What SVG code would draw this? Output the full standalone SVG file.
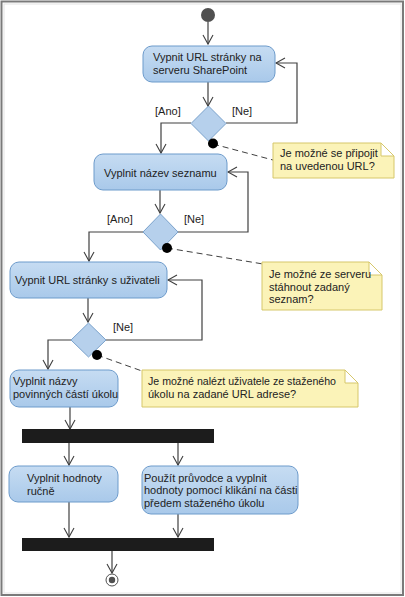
<svg xmlns="http://www.w3.org/2000/svg" width="405" height="597" viewBox="0 0 405 597">
<defs>
<linearGradient id="g" x1="0" y1="0" x2="0" y2="1">
<stop offset="0" stop-color="#c6dcf2"/>
<stop offset="1" stop-color="#a9c9ea"/>
</linearGradient>
<marker id="a" markerUnits="userSpaceOnUse" markerWidth="14" markerHeight="14" refX="10" refY="6" orient="auto">
<path d="M1,1 L10,6 L1,11" fill="none" stroke="#404040" stroke-width="1.1"/>
</marker>
</defs>
<style>
text{font-family:"Liberation Sans",Arial,sans-serif;font-size:11px;fill:#222}
.act{fill:url(#g);stroke:#6d9bcb;stroke-width:1}
.dec{fill:#b6d0ec;stroke:#7aa2cc;stroke-width:1}
.note{fill:#fbf3b8;stroke:#d6c76a;stroke-width:1}
.fold{fill:#ffffff;stroke:#d6c76a;stroke-width:1}
.c{fill:none;stroke:#404040;stroke-width:1.2}
.d{fill:none;stroke:#404040;stroke-width:1;stroke-dasharray:6,4}
.bar{fill:#1c1c1c}
.dot{fill:#000}
</style>
<rect x="0" y="0" width="405" height="597" fill="#fff"/>
<rect x="1.5" y="1.5" width="401.5" height="593.5" fill="none" stroke="#7a7a7a" stroke-width="2"/>
<rect x="4" y="4" width="397" height="589" fill="none" stroke="#e4e4e4" stroke-width="1"/>

<g id="connectors">
<path class="c" d="M208,22 V44" marker-end="url(#a)"/>
<path class="c" d="M208,82 V106" marker-end="url(#a)"/>
<path class="c" d="M226,123 H297 V63 H276" marker-end="url(#a)"/>
<path class="c" d="M191,123 H161 V153" marker-end="url(#a)"/>
<path class="d" d="M213,144 L273,160"/>
<path class="c" d="M160,190 V213" marker-end="url(#a)"/>
<path class="c" d="M178,232 H248 V172 H228" marker-end="url(#a)"/>
<path class="c" d="M143,232 H89 V261" marker-end="url(#a)"/>
<path class="d" d="M167,248 L263,264"/>
<path class="c" d="M88,298 V322" marker-end="url(#a)"/>
<path class="c" d="M106,340 H202 V280 H168" marker-end="url(#a)"/>
<path class="c" d="M71,340 H48 V369" marker-end="url(#a)"/>
<path class="d" d="M97,355 L142,371"/>
<path class="c" d="M70,407 V429" marker-end="url(#a)"/>
<path class="c" d="M69,443 V465" marker-end="url(#a)"/>
<path class="c" d="M178,443 V465" marker-end="url(#a)"/>
<path class="c" d="M69,502 V537" marker-end="url(#a)"/>
<path class="c" d="M178,514 V537" marker-end="url(#a)"/>
<path class="c" d="M112,551 V573" marker-end="url(#a)"/>
<text x="155" y="115">[Ano]</text>
<text x="232" y="115">[Ne]</text>
<text x="107" y="223">[Ano]</text>
<text x="184" y="223">[Ne]</text>
<text x="113" y="331">[Ne]</text>
</g>

<g id="start"><circle cx="208" cy="15" r="7" fill="#505050"/></g>

<g id="n1">
<rect class="act" x="143" y="46" width="132" height="36" rx="9"/>
<text x="153" y="61">Vypnit URL stránky na</text>
<text x="153" y="74">serveru SharePoint</text>
</g>

<g id="d1">
<polygon class="dec" points="208.5,106 226,123.5 208.5,141 191,123.5"/>
<circle class="dot" cx="213" cy="143.5" r="5"/>
</g>

<g id="note1">
<polygon class="note" points="273,143 381,143 394,156 394,178 273,178"/>
<path class="fold" d="M381,143 V156 H394 Z"/>
<text x="280" y="157">Je možné se připojit</text>
<text x="280" y="170">na uvedenou URL?</text>
</g>

<g id="n2">
<rect class="act" x="94" y="154" width="133" height="36" rx="9"/>
<text x="104" y="177">Vyplnit název seznamu</text>
</g>

<g id="d2">
<polygon class="dec" points="160.5,214 178,232 160.5,250 143,232"/>
<circle class="dot" cx="167" cy="248" r="5"/>
</g>

<g id="note2">
<polygon class="note" points="262,262 369,262 382,275 382,310 262,310"/>
<path class="fold" d="M369,262 V275 H382 Z"/>
<text x="269" y="278">Je možné ze serveru</text>
<text x="269" y="291">stáhnout zadaný</text>
<text x="269" y="303">seznam?</text>
</g>

<g id="n3">
<rect class="act" x="10" y="262" width="157" height="36" rx="9"/>
<text x="15" y="284">Vypnit URL stránky s uživateli</text>
</g>

<g id="d3">
<polygon class="dec" points="88.5,323 106,340 88.5,357 71,340"/>
<circle class="dot" cx="97" cy="355" r="5"/>
</g>

<g id="note3">
<polygon class="note" points="142,370 345,370 358,383 358,407 142,407"/>
<path class="fold" d="M345,370 V383 H358 Z"/>
<text x="148" y="385" textLength="188" lengthAdjust="spacingAndGlyphs">Je možné nalézt uživatele ze staženého</text>
<text x="148" y="398">úkolu na zadané URL adrese?</text>
</g>

<g id="n4">
<rect class="act" x="10" y="370" width="108" height="37" rx="9"/>
<text x="13" y="385">Vyplnit názvy</text>
<text x="13" y="398">povinných částí úkolu</text>
</g>

<g id="fork"><rect class="bar" x="22" y="429" width="192" height="14"/></g>

<g id="n5">
<rect class="act" x="9" y="466" width="109" height="36" rx="9"/>
<text x="27" y="482">Vyplnit hodnoty</text>
<text x="27" y="495">ručně</text>
</g>

<g id="n6">
<rect class="act" x="142" y="466" width="156" height="48" rx="9"/>
<text x="144" y="482">Použít průvodce a vyplnit</text>
<text x="144" y="494">hodnoty pomocí klikání na části</text>
<text x="144" y="507">předem staženého úkolu</text>
</g>

<g id="join"><rect class="bar" x="22" y="538" width="192" height="13"/></g>

<g id="end">
<circle cx="112" cy="580" r="6" fill="#fff" stroke="#505050" stroke-width="1"/>
<circle cx="112" cy="580" r="3.2" fill="#505050"/>
</g>
</svg>
